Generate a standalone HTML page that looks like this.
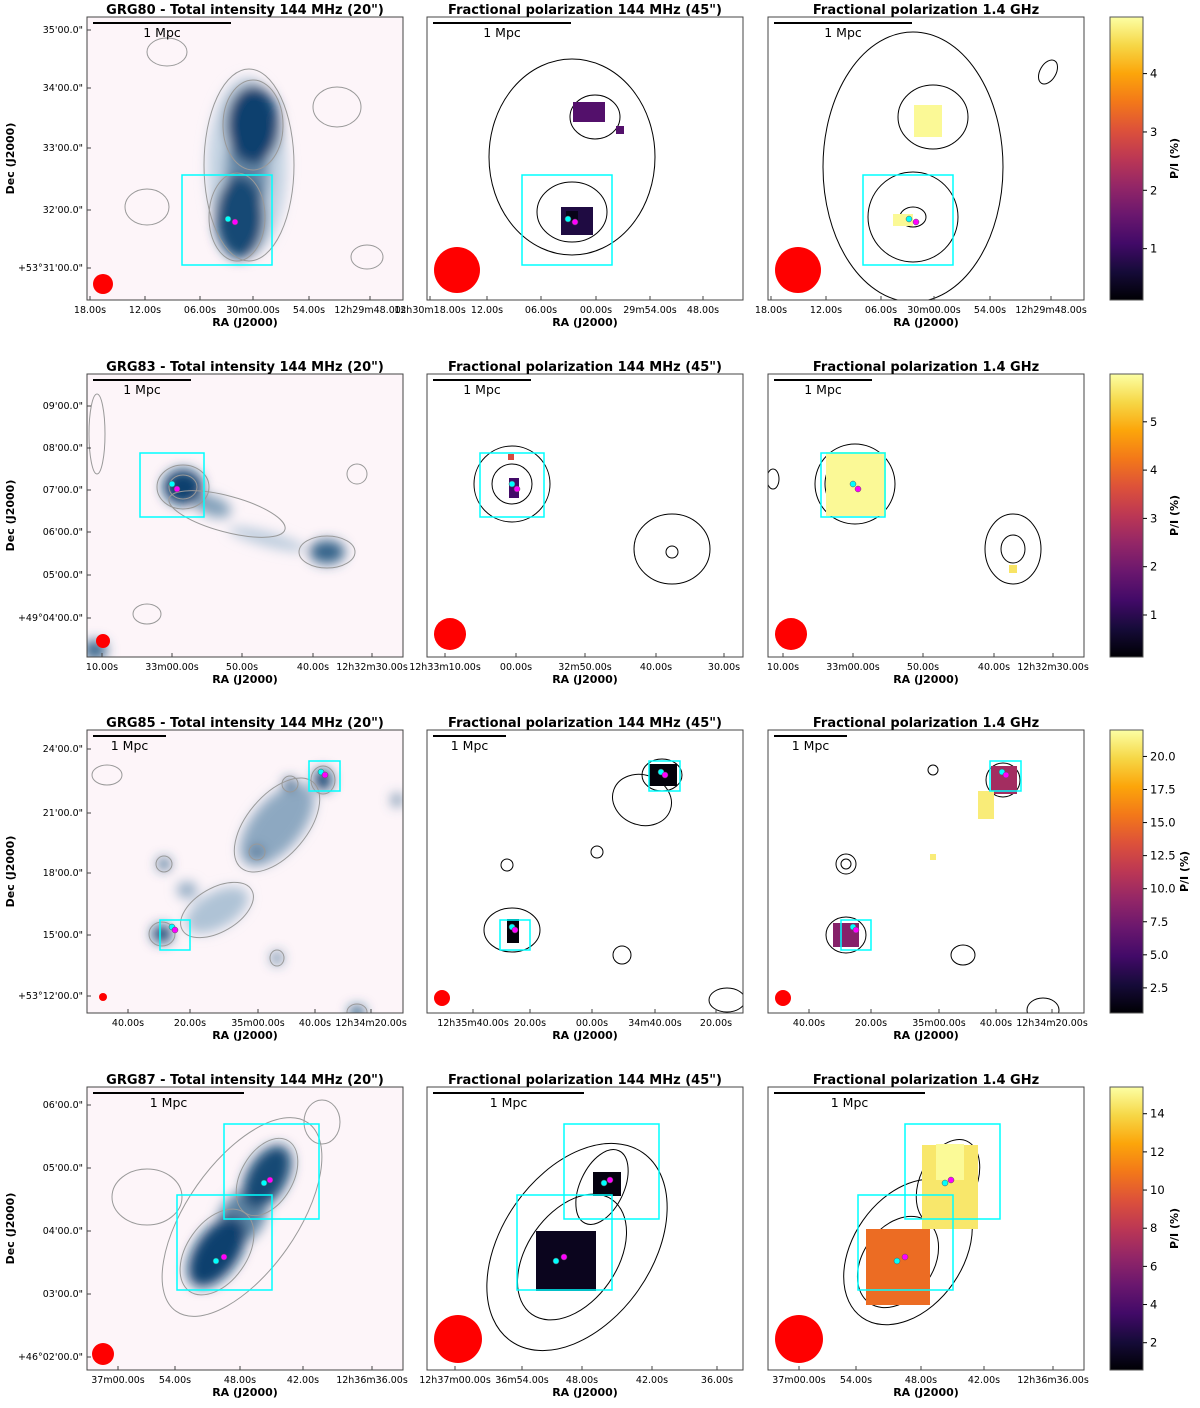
<!DOCTYPE html>
<html><head><meta charset="utf-8"><style>
body{margin:0;background:#fff}
svg text{font-family:"DejaVu Sans","Liberation Sans",sans-serif}
</style></head><body>
<svg id="fig" width="1200" height="1403" viewBox="0 0 1200 1403" xmlns="http://www.w3.org/2000/svg">
<defs>
<filter id="blur" x="-50%" y="-50%" width="200%" height="200%"><feGaussianBlur stdDeviation="6"/></filter>
<linearGradient id="inferno" x1="0" y1="1" x2="0" y2="0">
<stop offset="0" stop-color="#000004"/><stop offset="0.1" stop-color="#160b39"/><stop offset="0.2" stop-color="#420a68"/><stop offset="0.3" stop-color="#6a176e"/><stop offset="0.4" stop-color="#932667"/><stop offset="0.5" stop-color="#bc3754"/><stop offset="0.6" stop-color="#dd513a"/><stop offset="0.7" stop-color="#f37819"/><stop offset="0.8" stop-color="#fca50a"/><stop offset="0.9" stop-color="#f6d746"/><stop offset="1" stop-color="#fcffa4"/>
</linearGradient>
</defs>
</svg>
<script>
// ---- data ----
const rowNames = ['GRG80','GRG83','GRG85','GRG87'];
const rowTops = [17,374,730,1087];
const panelLefts = [87,427,768];
const cbTicks = [[1,2,3,4],[1,2,3,4,5],[2.5,5.0,7.5,10.0,12.5,15.0,17.5,20.0],[2,4,6,8,10,12,14]];
const cbMin = [0.12,0.13,0.6,0.57];
const cbMax = [4.97,5.99,22.0,15.4];
const yTickLabels = [
 ['35\'00.0"','34\'00.0"','33\'00.0"','32\'00.0"','+53°31\'00.0"'],
 ['09\'00.0"','08\'00.0"','07\'00.0"','06\'00.0"','05\'00.0"','+49°04\'00.0"'],
 ['24\'00.0"','21\'00.0"','18\'00.0"','15\'00.0"','+53°12\'00.0"'],
 ['06\'00.0"','05\'00.0"','04\'00.0"','03\'00.0"','+46°02\'00.0"']];
const yTickPos = [[13,71,131,193,251],[32,74,116,158,201,244],[19,83,143,205,266],[18,81,144,207,270]];
const xTickLabelsA = [
 ['18.00s','12.00s','06.00s','30m00.00s','54.00s','12h29m48.00s'],
 ['10.00s','33m00.00s','50.00s','40.00s','12h32m30.00s'],
 ['40.00s','20.00s','35m00.00s','40.00s','12h34m20.00s'],
 ['37m00.00s','54.00s','48.00s','42.00s','12h36m36.00s']];
const xTickLabelsB = [
 ['12h30m18.00s','12.00s','06.00s','00.00s','29m54.00s','48.00s'],
 ['12h33m10.00s','00.00s','32m50.00s','40.00s','30.00s'],
 ['12h35m40.00s','20.00s','00.00s','34m40.00s','20.00s'],
 ['12h37m00.00s','36m54.00s','48.00s','42.00s','36.00s']];
const xTickPosA = [[3,58,113,166,222,283],[15,85,155,226,285],[41,103,171,228,284],[31,88,153,216,285]];
const xTickPosB = [[3,60,114,169,223,276],[18,89,158,229,297],[46,103,165,228,289],[28,95,155,225,290]];
const scaleBar = [138,98,73,151];
const beamR = [[10,23,23],[7,16,16],[4,8,8],[11,24,24]];
const boxes = [[[95,158,90,90]],[[53,79,64,64]],[[73,190,30,30],[222,31,31,30]],[[90,108,95,95],[137,37,95,95]]];
const dots = [[[141,202],[148,205]],[[85,110],[90,115]],[[85,197],[88,200],[234,42],[238,45]],[[129,174],[137,170],[177,96],[183,93]]];
const blobs = [
 [[166,108,27,40,1,0],[153,200,25,42,0.95,0],[160,155,22,45,0.55,0],[160,150,40,90,0.15,0]],
 [[96,113,20,18,1,0],[125,132,20,10,0.45,20],[240,178,18,12,0.8,0],[8,276,12,10,0.8,0],[180,165,40,7,0.2,15]],
 [[75,204,10,9,1,0],[236,50,9,11,1,0],[203,54,6,6,0.9,0],[310,70,5,6,0.7,0],[77,134,6,6,0.85,0],[170,122,6,6,0.8,0],[190,228,5,6,0.8,0],[270,282,8,6,0.9,0],[190,95,25,50,0.4,40],[130,180,35,18,0.25,-30],[100,160,10,8,0.4,0]],
 [[130,165,22,40,1,35],[180,90,20,35,0.95,30],[155,130,22,30,0.6,35]]];
const contours1 = [
 [[162,148,45,96,0],[166,108,30,45,0],[150,200,28,44,0],[80,35,20,14,0],[60,190,22,18,0],[250,90,24,20,0],[280,240,16,12,0]],
 [[96,113,26,22,0],[96,113,14,12,0],[240,178,28,16,0],[140,140,60,18,15],[60,240,14,10,0],[10,60,8,40,0],[270,100,10,10,0]],
 [[75,204,13,12,0],[236,50,12,14,0],[203,54,8,8,0],[77,134,8,8,0],[170,122,8,8,0],[190,228,7,8,0],[190,95,30,56,40],[130,180,40,22,-30],[20,45,15,10,0],[270,282,10,8,0]],
 [[155,130,55,115,35],[130,165,30,48,35],[180,90,26,42,30],[60,110,35,28,0],[235,35,18,22,0]]];
const contours2 = [
 [[145,140,83,98,0],[168,100,25,22,0],[145,195,35,30,0]],
 [[85,110,38,38,0],[85,110,20,20,0],[245,175,38,35,0],[245,178,6,6,0]],
 [[85,200,28,22,0],[235,45,20,16,0],[215,70,30,25,20],[80,135,6,6,0],[170,122,6,6,0],[195,225,9,9,0],[300,270,18,12,0]],
 [[150,160,75,115,35],[145,170,45,70,35],[175,100,22,40,25]]];
const contours3 = [
 [[145,150,90,135,0],[165,100,35,32,0],[145,200,45,45,0],[145,200,13,10,0],[280,55,8,13,30]],
 [[87,110,40,40,0],[87,110,30,30,0],[87,110,15,15,0],[245,175,28,35,0],[245,175,12,14,0],[5,105,6,10,0]],
 [[78,205,20,18,0],[78,205,12,10,0],[235,50,17,17,0],[235,50,10,10,0],[78,134,10,10,0],[78,134,5,5,0],[195,225,12,10,0],[275,280,16,12,0],[165,40,5,5,0]],
 [[140,165,55,80,35],[130,175,35,50,35],[180,95,28,45,25]]];
const pol2 = [
 [[162,95,16,10,1.3],[193,113,4,4,1.3],[150,204,16,14,0.7],[145,199,6,5,0.3]],
 [[87,114,5,10,1.3],[84,83,3,3,3.5]],
 [[86,201,6,12,0.8],[236,45,14,11,0.9]],
 [[139,174,30,30,1.3],[180,97,14,12,0.9]]];
const pol3 = [
 [[160,104,14,16,4.9],[135,203,10,6,4.9]],
 [[88,110,30,32,5.9],[245,195,4,4,5.6]],
 [[78,205,13,12,8.5],[236,50,13,14,10],[218,75,8,14,21],[165,127,3,3,21]],
 [[130,180,32,38,10.5],[182,100,28,42,14.5],[182,75,14,18,15.2]]];

const NS='http://www.w3.org/2000/svg';
const svg=document.getElementById('fig');
function el(tag,attrs,parent,text){const e=document.createElementNS(NS,tag);for(const k in attrs)e.setAttribute(k,attrs[k]);if(text!==undefined)e.textContent=text;(parent||svg).appendChild(e);return e;}
const PW=316, PH=283;
const inf=['#000004','#160b39','#420a68','#6a176e','#932667','#bc3754','#dd513a','#f37819','#fca50a','#f6d746','#fcffa4'];
function hex(c){return [1,3,5].map(i=>parseInt(c.substr(i,2),16));}
function cmap(t){t=Math.max(0,Math.min(1,t));const f=t*10,i=Math.min(9,Math.floor(f)),u=f-i;const a=hex(inf[i]),b=hex(inf[i+1]);return 'rgb('+a.map((v,k)=>Math.round(v+(b[k]-v)*u)).join(',')+')';}
function blues(t){const a=[230,238,248],b=[8,64,110];return 'rgb('+a.map((v,k)=>Math.round(v+(b[k]-v)*t)).join(',')+')';}

rowNames.forEach((name,r)=>{
 const y0=rowTops[r];
 panelLefts.forEach((x0,p)=>{
  const g=el('g',{transform:`translate(${x0},${y0})`});
  
  
  const clipId=`c${r}${p}`;
  const cp=el('clipPath',{id:clipId},g);el('rect',{x:0,y:0,width:PW,height:PH},cp);
  el('rect',{x:0,y:0,width:PW,height:PH,fill:p===0?'#fdf5f9':'#fff'},g);
  const inner=el('g',{'clip-path':`url(#${clipId})`},g);
  if(p===0){
   const bg=el('g',{filter:'url(#blur)'},inner);
   blobs[r].slice().sort((a,b)=>a[4]-b[4]).forEach(b=>{const e=el('ellipse',{cx:b[0],cy:b[1],rx:b[2],ry:b[3],fill:blues(b[4]),transform:`rotate(${b[5]} ${b[0]} ${b[1]})`},bg);});
  }
  const cs=[contours1,contours2,contours3][p][r];
  cs.forEach(c=>{const e=el('ellipse',{cx:c[0],cy:c[1],rx:c[2],ry:c[3],fill:'none',stroke:p===0?'#999':'#000','stroke-width':1,transform:`rotate(${c[4]} ${c[0]} ${c[1]})`},inner);});
  if(p>0){
   const pl=p===1?pol2[r]:pol3[r];
   pl.forEach(q=>{const t=(q[4]-cbMin[r])/(cbMax[r]-cbMin[r]);const e=el('rect',{x:q[0]-q[2],y:q[1]-q[3],width:2*q[2],height:2*q[3],fill:cmap(t)},inner);});
  }
  boxes[r].forEach(b=>{const e=el('rect',{x:b[0],y:b[1],width:b[2],height:b[3],fill:'none',stroke:'#00ffff','stroke-width':1.5},inner);});
  dots[r].forEach((d,i)=>{const e=el('circle',{cx:d[0],cy:d[1],r:3,fill:i%2?'#ff00ff':'#00ffff',stroke:'#555','stroke-width':0.5},inner);});
  const br=beamR[r][p];
  const bm=el('circle',{cx:p===0?16:br+7,cy:p===0?PH-16:PH-br-7,r:br,fill:'#ff0000'},inner);
  
  const sb=el('line',{x1:6,y1:6,x2:6+scaleBar[r],y2:6,stroke:'#000','stroke-width':2},g);
  
  const sl=el('text',{x:6+scaleBar[r]/2,y:20,'font-size':12.5,'text-anchor':'middle'},g,'1 Mpc');
  
  el('rect',{x:0,y:0,width:PW,height:PH,fill:'none',stroke:'#444','stroke-width':1},g);
  const tt=el('text',{x:PW/2,y:-3,'font-size':13,'font-weight':'bold','text-anchor':'middle'},g,p===0?`${name} - Total intensity 144 MHz (20")`:(p===1?'Fractional polarization 144 MHz (45")':'Fractional polarization 1.4 GHz'));
  
  const xl=p===1?xTickLabelsB[r]:xTickLabelsA[r], xp=p===1?xTickPosB[r]:xTickPosA[r];
  xl.forEach((s,i)=>{el('line',{x1:xp[i],y1:PH,x2:xp[i],y2:PH-4,stroke:'#444'},g);const t=el('text',{x:xp[i],y:PH+13,'font-size':9.5,'text-anchor':'middle'},g,s);});
  const ax=el('text',{x:PW/2,y:PH+26,'font-size':11,'font-weight':'bold','text-anchor':'middle'},g,'RA (J2000)');
  
  if(p===0){
   yTickLabels[r].forEach((s,i)=>{el('line',{x1:0,y1:yTickPos[r][i],x2:4,y2:yTickPos[r][i],stroke:'#444'},g);const t=el('text',{x:-4,y:yTickPos[r][i]+3,'font-size':9.5,'text-anchor':'end'},g,s);});
   const yt=el('text',{x:0,y:0,'font-size':11,'font-weight':'bold','text-anchor':'middle',transform:`translate(-73,${PH/2}) rotate(-90)`},g,'Dec (J2000)');
   
  }
 });
 const cg=el('g',{transform:`translate(1110,${y0})`});
 
 
 el('rect',{x:0,y:0,width:33,height:PH,fill:'url(#inferno)',stroke:'#555','stroke-width':1},cg);
 const ys=v=>PH-(v-cbMin[r])/(cbMax[r]-cbMin[r])*PH;
 cbTicks[r].forEach(v=>{const y=ys(v);el('line',{x1:33,y1:y,x2:37,y2:y,stroke:'#000'},cg);const t=el('text',{x:40,y:y+4,'font-size':11.5},cg,r===2?v.toFixed(1):String(v));});
 const cl=el('text',{x:0,y:0,'font-size':11,'font-weight':'bold','text-anchor':'middle',transform:`translate(${r===2?78:68},${PH/2}) rotate(-90)`},cg,'P/I (%)');
 
});
</script>
</body></html>
